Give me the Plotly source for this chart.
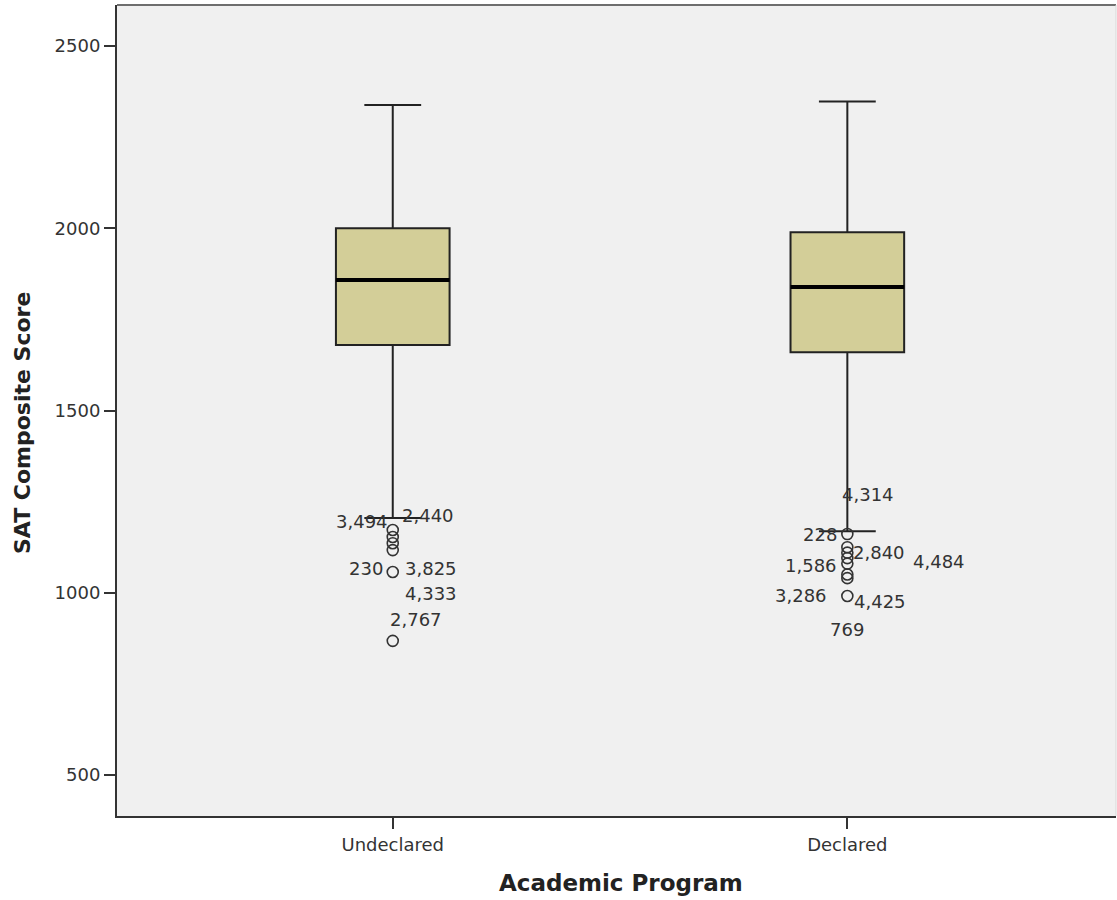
import plotly.graph_objects as go

# ---- data ----
categories = ["Undeclared", "Declared"]
q1 = [1680, 1660]
median = [1858, 1839]
q3 = [2000, 1989]
lower_whisker = [1205, 1169]
upper_whisker = [2338, 2348]

outliers_undeclared = [1172, 1153, 1136, 1117, 1057, 868]
labels_undeclared = ["2,440", "3,494", "230", "3,825", "4,333", "2,767"]
outliers_declared = [1161, 1125, 1110, 1095, 1080, 1050, 1040, 991]
labels_declared = ["4,314", "228", "2,840", "4,484", "1,586", "3,286", "4,425", "769"]

y_ticks = [500, 1000, 1500, 2000, 2500]

# ---- label placement (pixel offsets, style only) ----
place_undeclared = [(7, 15, "left"), (-3, 15, "right"), (-8, -25, "right"),
                    (10, -18, "left"), (10, -22, "left"), (-5, 21, "left")]
place_declared = [(-7, 40, "left"), (-8, 13, "right"), (4, 0, "left"),
                  (64, -3, "left"), (-8, -2, "right"), (-18, -21, "right"),
                  (5, -23, "left"), (0, -33, "center")]

FONT = "DejaVu Sans"
TXT = "#333333"
BOX_W = 0.25
xs = list(range(len(categories)))

W, H = 1117, 900
ML, MR, MT, MB = 117, 1, 5, 84

fig = go.Figure()

fig.add_trace(go.Box(
    x=xs, q1=q1, median=median, q3=q3,
    lowerfence=lower_whisker, upperfence=upper_whisker,
    width=BOX_W, whiskerwidth=0.5,
    fillcolor="#D3CE98", line=dict(color="#222222", width=2),
    boxpoints=False, showlegend=False, hoverinfo="skip",
))

# thick median lines
for i, m in zip(xs, median):
    fig.add_trace(go.Scatter(
        x=[i - BOX_W / 2, i + BOX_W / 2], y=[m, m], mode="lines",
        line=dict(color="#000000", width=4), showlegend=False, hoverinfo="skip",
    ))

# outliers
for i, vals in zip(xs, [outliers_undeclared, outliers_declared]):
    fig.add_trace(go.Scatter(
        x=[i] * len(vals), y=vals, mode="markers",
        marker=dict(symbol="circle-open", size=11, color="#333333",
                    line=dict(width=1.6, color="#333333")),
        showlegend=False, hoverinfo="skip",
    ))

annotations = []
for i, vals, labs, places in [(0, outliers_undeclared, labels_undeclared, place_undeclared),
                              (1, outliers_declared, labels_declared, place_declared)]:
    for v, lab, (dx, dy, anchor) in zip(vals, labs, places):
        annotations.append(dict(
            x=i, y=v, xref="x", yref="y", text=lab, showarrow=False,
            xshift=dx, yshift=dy, xanchor=anchor, yanchor="middle",
            font=dict(family=FONT, size=18, color=TXT),
        ))

plot_w = W - ML - MR
plot_h = H - MT - MB
# axis titles (positioned in pixels, converted to paper fractions)
annotations.append(dict(
    x=(621 - ML) / plot_w, y=(H - MB - 883) / plot_h, xref="paper", yref="paper",
    text="<b>Academic Program</b>",
    showarrow=False, xanchor="center", yanchor="middle",
    font=dict(family=FONT, size=23, color="#222222"),
))
annotations.append(dict(
    x=(22 - ML) / plot_w, y=(H - MB - 423) / plot_h, xref="paper", yref="paper",
    text="<b>SAT Composite Score</b>",
    showarrow=False, textangle=-90, xanchor="center", yanchor="middle",
    font=dict(family=FONT, size=22, color="#222222"),
))

fig.update_layout(
    width=W, height=H,
    margin=dict(l=ML, r=MR, t=MT, b=MB),
    paper_bgcolor="white", plot_bgcolor="#F0F0F0",
    annotations=annotations,
    shapes=[
        dict(type="line", xref="paper", yref="paper", x0=0, x1=1, y0=1, y1=1,
             line=dict(color="#6E6E6E", width=2)),
        dict(type="line", xref="paper", yref="paper", x0=1, x1=1, y0=0, y1=1,
             line=dict(color="#D8D8D8", width=1)),
    ],
)

fig.update_xaxes(
    range=[-0.6066, 1.591], tickvals=xs, ticktext=categories,
    ticks="outside", ticklen=11, tickwidth=2, tickcolor="#333333",
    showline=True, linecolor="#333333", linewidth=2, mirror=False,
    showgrid=False, zeroline=False,
    tickfont=dict(family=FONT, size=18, color=TXT),
)
fig.update_yaxes(
    range=[387.5, 2612.5], tickvals=y_ticks,
    ticks="outside", ticklen=11, tickwidth=2, tickcolor="#333333",
    showline=True, linecolor="#333333", linewidth=2, mirror=False,
    showgrid=False, zeroline=False,
    tickfont=dict(family=FONT, size=18, color=TXT),
)

fig.write_html(
    "out.html",
    config={"displayModeBar": False},
    post_script="document.body.style.margin='0';document.body.style.padding='0';"
                "document.body.style.overflow='hidden';",
)
